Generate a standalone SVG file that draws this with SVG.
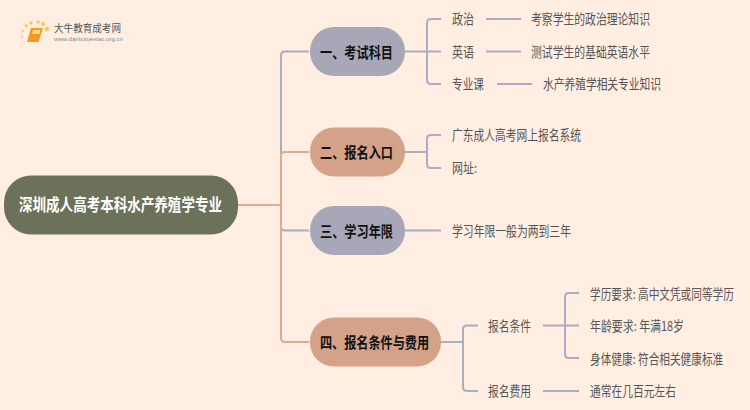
<svg xmlns="http://www.w3.org/2000/svg" width="750" height="410" viewBox="0 0 750 410">
<style>
text{font-family:"Noto Sans CJK SC","Liberation Sans",sans-serif}
.b{fill:none;stroke:#a9adc3;stroke-width:2}
.o{fill:none;stroke:#dcab92;stroke-width:2}
.leaf{font-size:13.500px;fill:#555;dominant-baseline:central}
.hd{font-size:15px;font-weight:700;fill:#111;dominant-baseline:central}
</style>
<rect width="750" height="410" fill="#ffeee1"/>
<g id="logo">
<g fill="#fbc94e"><circle cx="47" cy="29" r="2.200"/><circle cx="43" cy="24" r="2"/><circle cx="38" cy="22" r="1.800"/><circle cx="31" cy="23" r="1.800"/><circle cx="26" cy="25.500" r="1.500"/><circle cx="22.500" cy="31" r="1.200"/><circle cx="22" cy="37" r="1"/><circle cx="24" cy="42" r="0.800"/></g>
<path d="M31 28H43L38.500 42H27Z" fill="#f29a1f"/><path d="M33 30H40.500L39.500 34H32Z" fill="#ffd88a"/>
<path d="M54 33.500H133" stroke="#f3e6db" stroke-width="1" fill="none"/>
<text x="54" y="32" font-size="10" fill="#555" textLength="67" lengthAdjust="spacingAndGlyphs">大牛教育成考网</text>
<text x="54" y="41" font-size="6" fill="#888" style="font-family:'Liberation Sans',sans-serif" textLength="69" lengthAdjust="spacingAndGlyphs">www.daniuxuexiao.org.cn</text>
</g>
<g id="connectors">
<path class="b" d="M281 205V55.500Q281 51.500 285 51.500H309"/>
<path class="b" d="M281 205V226.500Q281 230.500 285 230.500H309"/>
<path class="o" d="M238 205H281"/>
<path class="o" d="M281 205V156Q281 152 285 152H309"/>
<path class="o" d="M281 205V338Q281 342 285 342H309"/>
<path class="b" d="M405 51.500H441M427 51.500V23Q427 19 431 19H441M427 51.500V80Q427 84 431 84H441"/>
<path class="b" d="M405 152H427M427 152V139Q427 135 431 135H441M427 152V164Q427 168 431 168H441"/>
<path class="b" d="M405 230.500H441"/>
<path class="b" d="M441 342H463M463 342V329.500Q463 325.500 467 325.500H478M463 342V387Q463 391 467 391H478"/>
<path class="b" d="M486 19H521M486 51.500H521M497 84H532"/>
<path class="b" d="M543 325.500H579M565 325.500V297Q565 293 569 293H579M565 325.500V354Q565 358 569 358H579M543 391H579"/>
</g>
<g id="root"><rect x="4" y="175.500" width="234" height="59" rx="27" fill="#6b7259"/><text x="19" y="204" font-size="16.500" font-weight="700" fill="#fff" dominant-baseline="central" textLength="203" lengthAdjust="spacingAndGlyphs">深圳成人高考本科水产养殖学专业</text></g>
<g id="n1"><rect x="310" y="27" width="95" height="49" rx="24" fill="#a7a7b7"/><text class="hd" x="320" y="51" textLength="73" lengthAdjust="spacingAndGlyphs">一、考试科目</text></g>
<g id="n2"><rect x="310" y="127.500" width="95" height="49" rx="24" fill="#d4a288"/><text class="hd" x="320" y="151.500" textLength="73" lengthAdjust="spacingAndGlyphs">二、报名入口</text></g>
<g id="n3"><rect x="310" y="206" width="95" height="49" rx="24" fill="#a7a7b7"/><text class="hd" x="320" y="230" textLength="73" lengthAdjust="spacingAndGlyphs">三、学习年限</text></g>
<g id="n4"><rect x="310" y="317.500" width="131" height="49" rx="24" fill="#d4a288"/><text class="hd" x="320" y="341.500" textLength="109" lengthAdjust="spacingAndGlyphs">四、报名条件与费用</text></g>
<g id="l1"><text class="leaf" x="452" y="18" textLength="22" lengthAdjust="spacingAndGlyphs">政治</text></g>
<g id="l2"><text class="leaf" x="452" y="51" textLength="22" lengthAdjust="spacingAndGlyphs">英语</text></g>
<g id="l3"><text class="leaf" x="452" y="83" textLength="32" lengthAdjust="spacingAndGlyphs">专业课</text></g>
<g id="l1a"><text class="leaf" x="531" y="18" textLength="119" lengthAdjust="spacingAndGlyphs">考察学生的政治理论知识</text></g>
<g id="l2a"><text class="leaf" x="531" y="51" textLength="119" lengthAdjust="spacingAndGlyphs">测试学生的基础英语水平</text></g>
<g id="l3a"><text class="leaf" x="543" y="83" textLength="118" lengthAdjust="spacingAndGlyphs">水产养殖学相关专业知识</text></g>
<g id="l4"><text class="leaf" x="452" y="134" textLength="129" lengthAdjust="spacingAndGlyphs">广东成人高考网上报名系统</text></g>
<g id="l5"><text class="leaf" x="452" y="167" textLength="25" lengthAdjust="spacingAndGlyphs">网址:</text></g>
<g id="l6"><text class="leaf" x="452" y="230" textLength="119" lengthAdjust="spacingAndGlyphs">学习年限一般为两到三年</text></g>
<g id="l7"><text class="leaf" x="488" y="325" textLength="43" lengthAdjust="spacingAndGlyphs">报名条件</text></g>
<g id="l8"><text class="leaf" x="488" y="390" textLength="43" lengthAdjust="spacingAndGlyphs">报名费用</text></g>
<g id="l9"><text class="leaf" transform="translate(590 293) scale(.79 1)">学历要求: 高中文凭或同等学历</text></g>
<g id="l10"><text class="leaf" x="590" y="325" textLength="94" lengthAdjust="spacingAndGlyphs">年龄要求: 年满18岁</text></g>
<g id="l11"><text class="leaf" transform="translate(590 358) scale(.79 1)">身体健康: 符合相关健康标准</text></g>
<g id="l12"><text class="leaf" x="590" y="390" textLength="86" lengthAdjust="spacingAndGlyphs">通常在几百元左右</text></g>
</svg>
